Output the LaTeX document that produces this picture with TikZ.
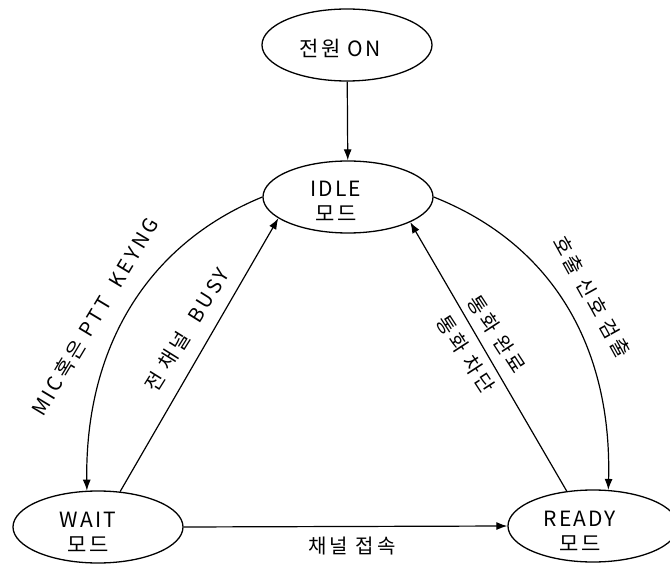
\documentclass[tikz,border=0pt]{standalone}
\usepackage{fontspec}
\setmainfont{Noto Sans CJK KR}[LetterSpace=10]
\usetikzlibrary{arrows.meta,shapes.geometric}
\begin{document}
\begin{tikzpicture}[x=1pt,y=-1pt,
  st/.style={draw, ellipse, line width=1.3pt, minimum width=170pt, minimum height=72pt, inner sep=0pt},
  txt/.style={font=\fontsize{21}{24}\selectfont, align=center, inner sep=0pt},
  lbl/.style={font=\fontsize{20}{23}\selectfont\addfontfeature{LetterSpace=16}, inner sep=0pt},
  arr/.style={line width=1.2pt, -{Latex[length=11pt,width=8pt]}}
]
\useasboundingbox (0,0) rectangle (670,564);
% states
\node[st] (pwr) at (347,45) {};
\node[txt] (pwrt) at (340,48) {전원 ON};
\node[st] (idle) at (348,197) {};
\node[txt] (idlet) at (336,201) {IDLE\\[1pt]모드};
\node[st] (wait) at (98,527) {};
\node[txt] (waitt) at (88,532) {WAIT\\[1pt]모드};
\node[st] (ready) at (593,526) {};
\node[txt] (readyt) at (580,531) {READY\\[1pt]모드};
% transitions
\draw[arr] (pwr) -- (idle);
\draw[arr] (idle.west) .. controls (145,245) and (85,350) .. (wait.107);
\draw[arr] (wait.58) -- (idle.197);
\draw[arr] (idle.east) .. controls (555,245) and (612,350) .. (ready.67);
\draw[arr] (ready.127) -- (idle.-22);
\draw[arr] (wait.east) -- (ready.west);
% labels
\node[lbl, rotate=59] (micl) at (95,317) {MIC혹은 PTT\ \ KEYNG};
\node[lbl, rotate=58] (busyl) at (187,330) {전 채널\ \ BUSY};
\node[lbl] (connl) at (352,546) {채널 접속};
\node[lbl, rotate=-61] (calll) at (592,297) {호출 신호 검출};
\node[lbl, rotate=-57, align=center] (endl) at (481,344) {통화 완료\\[14pt]통화 차단};
\end{tikzpicture}
\end{document}
